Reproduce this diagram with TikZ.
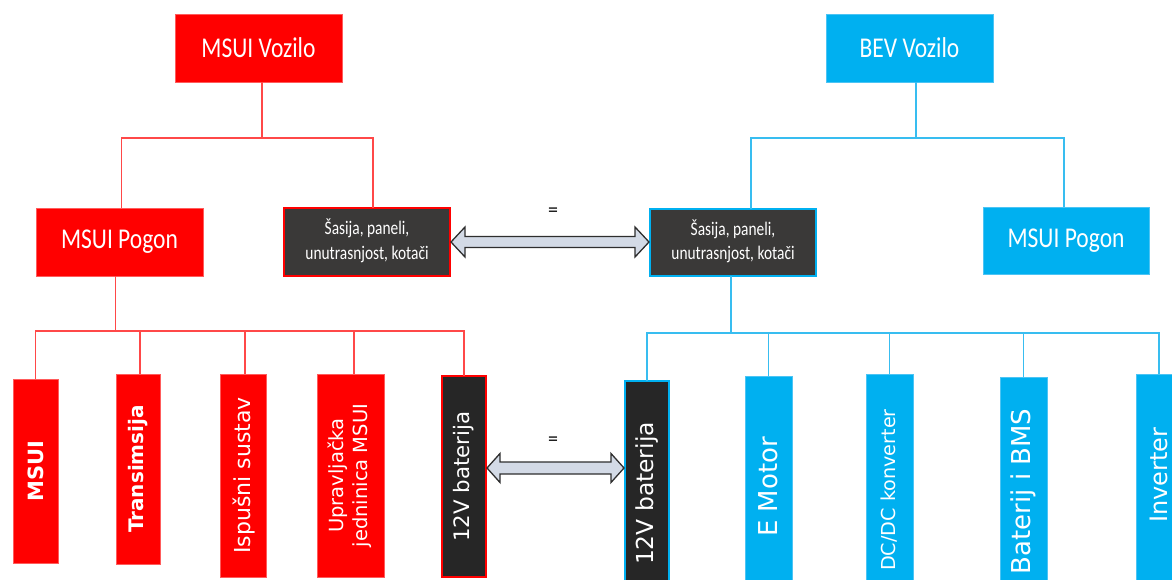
\documentclass[tikz,border=0pt]{standalone}
\usepackage{fontspec}
\setmainfont{Carlito}
\newfontfamily\dvs{DejaVu Sans}
\usetikzlibrary{calc}
\definecolor{msred}{HTML}{FF0000}
\definecolor{bevblue}{HTML}{00B0F0}
\definecolor{darkbox}{HTML}{3A3938}
\definecolor{darkbat}{HTML}{262626}
\definecolor{redline}{HTML}{FF4848}
\definecolor{blueline}{HTML}{38BDF0}
\definecolor{rededge}{HTML}{FF5C5C}
\definecolor{blueedge}{HTML}{4CC4F4}
\definecolor{arrowfill}{HTML}{D3DAE6}
\definecolor{arrowedge}{HTML}{2E2E2E}
\newcommand{\toptxt}[1]{\scalebox{1}[1.22]{\fontsize{23.5}{28}\selectfont #1}}
\newcommand{\chfont}{\fontsize{15.4}{20}\selectfont}
\newcommand{\rtxt}[2]{\rotatebox{90}{\dvs\fontsize{#1}{#1}\selectfont #2}}
\begin{document}
\begin{tikzpicture}[x=1pt,y=-1pt,
  box/.style={inner sep=0pt, outer sep=0pt, text=white, align=center},
  redbox/.style={box, fill=msred, draw=rededge, line width=0.8pt},
  bluebox/.style={box, fill=bevblue, draw=blueedge, line width=0.8pt},
  chredbox/.style={box, fill=darkbox, draw=msred, line width=1.5pt},
  chbluebox/.style={box, fill=darkbox, draw=bevblue, line width=1.5pt},
  batred/.style={box, fill=darkbat, draw=msred, line width=1.5pt},
  batblue/.style={box, fill=darkbat, draw=bevblue, line width=1.5pt},
  rline/.style={draw=redline, line width=1.4pt},
  bline/.style={draw=blueline, line width=1.4pt},
  dblarrow/.style={draw=arrowedge, fill=arrowfill, line width=1.3pt, line join=miter},
  eqlabel/.style={inner sep=0pt, font=\fontsize{20}{20}\selectfont}
]
\useasboundingbox (0,0) rectangle (1172,580);
\clip (0,0) rectangle (1172,580);

\coordinate (yA) at (0,138);
\coordinate (yB) at (0,331);
\coordinate (yC) at (0,333);
\coordinate (yarT) at (0,242);
\coordinate (yarB) at (0,468);

% ---------- top level ----------
\node[redbox, minimum width=167pt, minimum height=68pt] (mv) at (258.5,48) {\toptxt{MSUI Vozilo}};
\node[bluebox, minimum width=167pt, minimum height=68pt] (bv) at (909.5,48) {\toptxt{BEV Vozilo}};

% ---------- second level ----------
\node[redbox, minimum width=167pt, minimum height=68pt] (mp) at (119.5,242) {\toptxt{MSUI Pogon}};
\node[chredbox, minimum width=166pt, minimum height=68pt] (ls) at (367,242)
  {\scalebox{1}[1.25]{\chfont\begin{tabular}{@{}c@{}}Šasija, paneli,\\unutrasnjost, kotači\end{tabular}}};
\node[chbluebox, minimum width=166pt, minimum height=67pt] (rs) at (733,242.5)
  {\scalebox{1}[1.25]{\chfont\begin{tabular}{@{}c@{}}Šasija, paneli,\\unutrasnjost, kotači\end{tabular}}};
\node[bluebox, minimum width=166pt, minimum height=67pt] (rp) at (1066,240.5) {\toptxt{MSUI Pogon}};

% ---------- third level, left ----------
\node[redbox, minimum width=45pt, minimum height=184pt] (l1) at (35.5,471) {\rtxt{21}{\bfseries MSUI}};
\node[redbox, minimum width=44pt, minimum height=190pt] (l2) at (138.5,469) {\rtxt{20}{\bfseries Transimsija}};
\node[redbox, minimum width=46pt, minimum height=203pt] (l3) at (243.5,475.5) {\rtxt{22}{Ispušni sustav}};
\node[redbox, minimum width=67pt, minimum height=203pt] (l4) at (351,475.5)
  {\rotatebox{90}{\dvs\fontsize{19.5}{24}\selectfont\begin{tabular}{@{}c@{}}Upravljačka\\jedninica MSUI\end{tabular}}};
\node[batred, minimum width=44pt, minimum height=201pt] (l5) at (464,476.5) {\rtxt{21.3}{12V baterija}};

% ---------- third level, right ----------
\node[batblue, minimum width=44pt, minimum height=225pt] (r1) at (647,493.5) {\rtxt{23.4}{12V baterija}};
\node[bluebox, minimum width=47pt, minimum height=230pt] (r2) at (768.5,491) {\rtxt{26}{\hspace*{8pt}E Motor}};
\node[bluebox, minimum width=47pt, minimum height=232pt] (r3) at (889.5,490) {\rtxt{19.2}{DC/DC konverter}};
\node[bluebox, minimum width=47pt, minimum height=229pt] (r4) at (1023.5,491.5) {\rtxt{26}{Baterij i BMS}};
\node[bluebox, minimum width=46pt, minimum height=232pt] (r5) at (1159,490) {\rtxt{24}{\hspace*{30pt}Inverter}};

% ---------- connectors, left ----------
\draw[rline] ([xshift=3.5pt]mv.south) -- ([xshift=3.5pt]mv.south |- yA);
\draw[rline] ([xshift=2pt]mp.north) |- ([xshift=6pt]ls.north |- yA) -- ([xshift=6pt]ls.north);
\draw[rline] ([xshift=-4pt]mp.south) -- ([xshift=-4pt]mp.south |- yB);
\draw[rline] (l1.north) |- (l5.north |- yB) -- (l5.north);
\draw[rline] ([xshift=1.5pt]l2.north) -- ([xshift=1.5pt]l2.north |- yB);
\draw[rline] ([xshift=1.5pt]l3.north) -- ([xshift=1.5pt]l3.north |- yB);
\draw[rline] ([xshift=3pt]l4.north) -- ([xshift=3pt]l4.north |- yB);

% ---------- connectors, right ----------
\draw[bline] ([xshift=6.5pt]bv.south) -- ([xshift=6.5pt]bv.south |- yA);
\draw[bline] ([xshift=18pt]rs.north) |- ([xshift=-2pt]rp.north |- yA) -- ([xshift=-2pt]rp.north);
\draw[bline] ([xshift=-2pt]rs.south) -- ([xshift=-2pt]rs.south |- yC);
\draw[bline] (r1.north) |- (r5.north |- yC) -- (r5.north);
\draw[bline] (r2.north) -- (r2.north |- yC);
\draw[bline] (r3.north) -- (r3.north |- yC);
\draw[bline] (r4.north) -- (r4.north |- yC);

% ---------- equivalence arrows ----------
\coordinate (aL) at ([xshift=1pt]ls.east |- yarT);
\coordinate (aR) at ([xshift=-1pt]rs.west |- yarT);
\draw[dblarrow] (aL) -- ($(aL)+(14,-15)$) -- ($(aL)+(14,-5.5)$) -- ($(aR)+(-14,-5.5)$)
  -- ($(aR)+(-14,-15)$) -- (aR) -- ($(aR)+(-14,15)$) -- ($(aR)+(-14,5.5)$)
  -- ($(aL)+(14,5.5)$) -- ($(aL)+(14,15)$) -- cycle;
\node[eqlabel] (eqT) at (553,212) {=};

\coordinate (bL) at ([xshift=1pt]l5.east |- yarB);
\coordinate (bR) at ([xshift=-1pt]r1.west |- yarB);
\draw[dblarrow] (bL) -- ($(bL)+(13,-14.5)$) -- ($(bL)+(13,-6)$) -- ($(bR)+(-13,-6)$)
  -- ($(bR)+(-13,-14.5)$) -- (bR) -- ($(bR)+(-13,14.5)$) -- ($(bR)+(-13,6)$)
  -- ($(bL)+(13,6)$) -- ($(bL)+(13,14.5)$) -- cycle;
\node[eqlabel] (eqB) at (553,441) {=};
\end{tikzpicture}
\end{document}
